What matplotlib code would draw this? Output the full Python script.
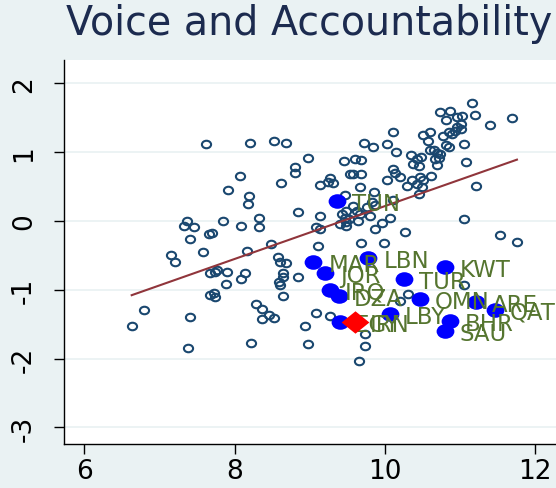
import numpy as np
import matplotlib.pyplot as plt
from matplotlib.path import Path
from matplotlib.transforms import Affine2D

# all countries (hollow markers): log GDP per capita vs Voice and Accountability
gdp_x = [6.63, 6.80, 7.15, 7.21, 7.32, 7.36, 7.46, 7.41, 7.40, 7.38,
         7.58, 7.62, 7.66, 7.70, 7.67, 7.74, 7.76, 7.90, 7.88, 7.67,
         7.73, 7.74, 7.84, 7.91, 8.07, 8.08, 8.14, 8.09, 8.17, 8.19,
         8.18, 8.21, 8.22, 8.28, 8.36, 8.46, 8.52, 8.36, 8.32, 8.32,
         8.48, 8.52, 8.69, 8.58, 8.60, 8.68, 8.62, 8.65, 8.64, 8.59,
         8.61, 8.64, 8.80, 8.80, 8.84, 8.84, 8.98, 8.94, 8.98, 9.09,
         9.27, 9.14, 9.25, 9.27, 9.31, 9.14, 9.09, 9.14, 9.11, 9.46,
         9.54, 9.47, 9.43, 9.49, 9.47, 9.40, 9.48, 9.49, 9.58, 9.63,
         9.67, 9.76, 9.53, 9.65, 9.80, 9.96, 10.07, 9.87, 9.87, 10.27,
         9.69, 9.99, 9.60, 9.69, 9.58, 9.69, 9.67, 9.85, 9.83, 9.72,
         9.84, 10.03, 10.11, 10.15, 10.11, 10.13, 10.20, 10.03, 10.11, 10.29,
         10.36, 10.43, 10.47, 10.51, 10.49, 10.62, 10.45, 10.35, 10.43, 10.38,
         10.45, 10.48, 10.51, 10.60, 10.57, 10.60, 10.66, 10.70, 10.67, 10.72,
         10.69, 10.78, 10.82, 10.85, 10.74, 10.87, 10.82, 10.96, 11.03, 11.01,
         10.96, 10.93, 10.85, 10.89, 11.01, 11.16, 11.20, 11.40, 11.69, 11.05,
         11.08, 11.22, 11.05, 11.53, 11.76, 10.73, 11.06, 10.31, 10.20, 9.74,
         9.74, 9.66]
va_y = [-1.52, -1.30, -0.49, -0.59, -0.07, 0.00, -0.09, -0.26, -1.40, -1.84,
        -0.45, 1.12, -0.19, -0.18, -0.75, -0.74, -0.71, -0.74, -0.92, -1.07,
        -1.05, -1.11, 0.00, 0.45, 0.65, -0.84, -0.76, -0.07, -0.43, 0.37,
        0.24, 1.13, -1.77, -1.20, -1.28, -1.36, -1.41, -1.43, 0.04, -0.08,
        -0.34, 1.17, 1.13, -0.53, -0.59, -0.61, 0.55, -0.76, -0.82, -0.88,
        -0.93, -1.09, 0.78, 0.70, 0.13, -0.81, 0.91, -1.53, -1.79, -1.33,
        -1.38, 0.52, 0.56, 0.62, 0.55, 0.07, -0.08, -0.11, -0.37, 0.87,
        0.69, 0.38, 0.10, 0.15, 0.05, -0.04, -0.07, -0.02, 0.22, 0.15,
        0.10, 0.20, 0.03, 0.00, 0.07, -0.03, 0.05, 0.23, -0.12, -0.16,
        -0.32, -0.32, 0.90, 0.88, 0.68, 0.68, 0.49, 0.42, 0.27, 1.13,
        1.07, 1.12, 1.30, 1.00, 0.76, 0.70, 0.64, 0.59, 0.30, 0.51,
        0.59, 0.54, 0.64, 0.59, 0.49, 0.65, 0.39, 0.96, 0.90, 0.83,
        0.80, 0.93, 1.25, 1.29, 1.17, 1.03, 1.03, 0.99, 0.90, 0.92,
        0.81, 1.23, 1.10, 1.07, 1.59, 1.60, 1.47, 1.51, 1.52, 1.41,
        1.37, 1.31, 1.29, 1.27, 1.33, 1.72, 1.54, 1.39, 1.50, 1.12,
        0.86, 0.51, 0.03, -0.20, -0.30, 0.98, -0.93, -1.06, -1.16, -1.64,
        -1.81, -2.03]

# highlighted countries
codes = ["TUN", "MAR", "LBN", "JOR", "KWT", "TUR", "IRQ", "DZA",
         "OMN", "ARE", "QAT", "LBY", "BHR", "SAU", "EGY"]
hl_x = [9.36, 9.05, 9.78, 9.20, 10.80, 10.25, 9.27, 9.39,
        10.47, 11.22, 11.47, 10.07, 10.87, 10.80, 9.40]
hl_y = [0.29, -0.59, -0.54, -0.75, -0.67, -0.85, -1.00, -1.09,
        -1.13, -1.17, -1.29, -1.35, -1.45, -1.60, -1.47]

focus_code = "IRN"
focus_x = 9.60
focus_y = -1.47

# linear fit
fit_intercept = -3.624
fit_slope = 0.384

xticks = [6, 8, 10, 12]
yticks = [-3, -2, -1, 0, 1, 2]

bg = '#EAF2F3'
fig = plt.figure(figsize=(5.56, 4.89), dpi=100)
fig.patch.set_facecolor(bg)
ax = fig.add_axes([63.5 / 556, 44 / 489, 1 - 63.5 / 556, 384 / 489])
ax.set_facecolor('white')

# the original is slightly stretched sideways, so markers are a bit wide
ellipse = Affine2D().scale(1.22, 1.0).transform_path(Path.unit_circle())
diamond = [(-1.24, 0), (0, 1), (1.24, 0), (0, -1), (-1.24, 0)]

ax.plot(gdp_x, va_y, ls='none', marker=ellipse, ms=6.6, mfc='none',
        mec='#1A476F', mew=1.5, zorder=2)

xs = np.array([min(gdp_x), max(gdp_x)])
ax.plot(xs, fit_intercept + fit_slope * xs, color='#90353B', lw=1.5, zorder=3)

ax.plot(hl_x, hl_y, ls='none', marker=ellipse, ms=12.8, mfc='blue',
        mec='none', zorder=4)
for c, x, y in zip(codes, hl_x, hl_y):
    ax.annotate(c, (x, y), xytext=(10.8, 0), textcoords='offset points',
                ha='left', va='center_baseline', fontsize=16.5,
                color='#55752F', zorder=5)

ax.plot([focus_x], [focus_y], ls='none', marker=diamond, ms=20,
        mfc='red', mec='none', zorder=6)
ax.annotate(focus_code, (focus_x, focus_y), xytext=(10.8, 0),
            textcoords='offset points', ha='left', va='center_baseline',
            fontsize=16.5, color='#55752F', zorder=7)

ax.set_xlim(5.722, 12.28)
ax.set_ylim(-3.241, 2.340)
ax.set_xticks(xticks)
ax.set_xticklabels([str(t) for t in xticks])
ax.set_yticks(yticks)
ax.set_yticklabels([str(t) for t in yticks])
ax.grid(axis='y', color=bg, lw=1.3)
ax.set_axisbelow(True)

for s in ['top', 'right']:
    ax.spines[s].set_visible(False)
for s in ['left', 'bottom']:
    ax.spines[s].set_color('black')
    ax.spines[s].set_linewidth(1.0)

ax.tick_params(axis='both', length=7, width=1, colors='black', labelsize=19)
ax.tick_params(axis='x', pad=3)
ax.tick_params(axis='y', labelrotation=90, pad=12)
for lab in ax.get_yticklabels():
    lab.set_va('center')

fig.text(65.6 / 556, 1 - 35.5 / 489, 'Voice and Accountability', fontsize=28.5,
         color='#1C2B4F', ha='left', va='baseline')

fig.savefig('out.png', dpi=100, facecolor=bg)
